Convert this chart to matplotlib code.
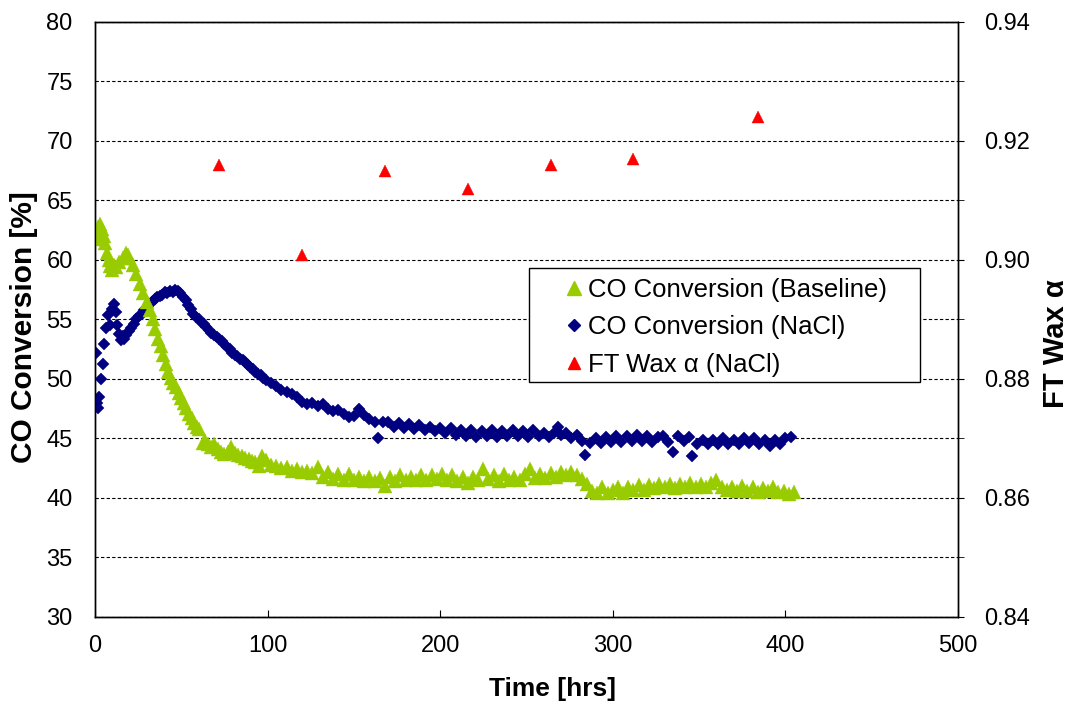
import matplotlib
matplotlib.use("Agg")
import matplotlib.pyplot as plt
from matplotlib.lines import Line2D
from matplotlib.patches import Rectangle
from matplotlib.ticker import FormatStrFormatter, MultipleLocator

plt.rcParams['font.family'] = ['Liberation Sans', 'DejaVu Sans']

# CO conversion, baseline run
base_t = [0, 1, 2, 3, 4, 5, 6, 7, 8, 9,
          10, 11, 12, 14, 16, 18, 19, 20, 22, 24,
          26, 28, 30, 32, 33.5, 35, 36.5, 38, 39.5, 41,
          42.5, 44, 45.5, 47, 48.5, 50, 51.5, 53, 54.5, 56,
          57.5, 59, 60.5, 62.5, 64, 65.5, 67, 69, 71, 73,
          75, 77, 79, 81, 83, 85, 87, 89, 91, 93,
          95, 97,
          99, 102, 105, 108, 111, 114, 117, 120, 123, 126,
          129, 132, 135, 138, 141, 144, 147, 150, 153, 156,
          159, 162, 165, 168, 171, 174, 177, 180, 183, 186,
          189, 192, 195, 198, 201, 204, 207, 210, 213, 216,
          219, 222, 225, 228, 231, 234, 237, 240, 243, 246,
          249, 252, 255, 258, 261, 264, 267, 270, 273, 276,
          279, 282, 285, 288, 291, 294, 297, 300, 303, 306,
          309, 312, 315, 318, 321, 324, 327, 330, 333, 336,
          339, 342, 345, 348, 351, 354, 357, 360, 363, 366,
          369, 372, 375, 378, 381, 384, 387, 390, 393, 396,
          399, 402, 405]
base_co = [61.8, 62.3, 62.8, 63.0, 62.6, 62.0, 61.4, 60.6, 60.0, 59.5,
           59.2, 59.6, 59.4, 59.8, 60.2, 60.6, 60.4, 60.2, 59.6, 58.8,
           58.0, 57.2, 56.5, 55.8, 55.0, 54.2, 53.4, 52.8, 52.0, 51.3,
           50.6, 50.1, 49.7, 49.3, 48.8, 48.4, 48.0, 47.6, 47.1, 46.7,
           46.3, 46.0, 45.8, 44.6, 44.8, 44.5, 44.3, 44.5, 44.1, 43.9,
           43.7, 43.9, 44.3, 43.8, 43.6, 43.5, 43.4, 43.3, 43.1, 43.0,
           42.7, 43.5,
           43.2, 42.8, 42.7, 42.5, 42.6, 42.3, 42.4, 42.2, 42.3, 42.1,
           42.6, 41.8, 42.2, 41.6, 42.0, 41.5, 42.0, 41.5, 41.8, 41.4,
           41.8, 41.4, 41.7, 41.0, 41.8, 41.4, 41.9, 41.5, 41.8, 41.5,
           41.9, 41.5, 41.9, 41.6, 42.0, 41.5, 41.9, 41.4, 41.8, 41.3,
           41.8, 41.5, 42.4, 41.6, 41.9, 41.4, 42.0, 41.5, 41.8, 41.5,
           42.0, 42.4, 41.7, 42.0, 41.7, 42.1, 41.8, 42.2, 41.9, 42.2,
           41.9, 41.6, 41.2, 40.6, 40.4, 40.9, 40.4, 40.7, 40.9, 40.4,
           40.9, 40.7, 41.1, 40.7, 41.1, 40.8, 41.2, 40.9, 41.2, 40.8,
           41.2, 40.9, 41.3, 40.9, 41.2, 40.9, 41.3, 41.5, 40.9, 40.7,
           40.9, 40.6, 41.0, 40.6, 40.9, 40.5, 40.8, 40.6, 40.9, 40.5,
           40.6, 40.3, 40.5]

# CO conversion, NaCl run
nacl_t = [0.5, 1, 1.5, 2.5, 3.5, 4.5, 5.5, 6.5, 7.5, 8.5,
          10, 11, 12, 13, 14, 15, 16, 17, 18, 19.5,
          21, 22.5, 24, 25.5, 27, 28.5, 30, 31.5, 33, 34.5,
          36, 37.5, 39, 40.5, 42, 43.5, 45, 46.5, 48, 49.5,
          51, 52.5, 54, 55.5, 57, 58.5, 60, 61.5, 63, 64.5,
          66, 67.5, 69, 70.5, 72, 73.5, 75, 76.5, 78, 79.5,
          81, 82.5, 84, 85.5, 87, 88.5, 90, 91.5, 93, 94.5,
          96, 97.5, 99,
          102, 105, 108, 111, 114, 117, 120, 123, 126, 129,
          132, 135, 138, 141, 144, 147, 150, 153, 156, 159,
          162, 164, 167, 170, 173, 176, 179, 182, 185, 188,
          191, 194, 197, 200, 203, 206, 209, 212, 215, 218,
          221, 224, 227, 230, 233, 236, 239, 242, 245, 248,
          251, 254, 257, 260, 263, 266, 268, 270, 273, 276,
          279, 282, 284, 287, 290, 293, 296, 299, 302, 305,
          308, 311, 314, 317, 320, 323, 326, 329, 332, 335,
          338, 341, 344, 346, 349, 352, 355, 358, 361, 364,
          367, 370, 373, 376, 379, 382, 385, 388, 391, 394,
          397, 400, 403]
nacl_co = [52.2, 48.0, 47.6, 48.5, 50.0, 51.3, 52.9, 54.3, 55.4, 54.5,
           55.9, 56.3, 55.6, 54.5, 53.8, 53.3, 53.6, 53.4, 53.7, 54.0,
           54.3, 54.6, 55.0, 55.3, 55.5, 55.8, 56.0, 56.3, 56.5, 56.7,
           56.9, 57.0, 57.1, 57.3, 57.2, 57.4, 57.3, 57.5, 57.4, 57.2,
           56.9, 56.6, 56.2, 55.9, 55.5, 55.2, 55.0, 54.8, 54.6, 54.4,
           54.1, 53.9, 53.7, 53.5, 53.4, 53.2, 52.9, 52.7, 52.5, 52.2,
           52.0, 51.9, 51.7, 51.6, 51.4, 51.2, 51.0, 50.8, 50.6, 50.4,
           50.3, 50.1, 49.9,
           49.7, 49.4, 49.1, 48.9, 48.7, 48.5, 48.1, 47.9, 48.0, 47.7,
           47.9, 47.5, 47.3, 47.4, 47.1, 46.8, 46.9, 47.5, 47.0, 46.6,
           46.4, 45.0, 46.4, 46.4, 46.0, 46.3, 45.9, 46.2, 45.8, 46.1,
           45.7, 46.0, 45.6, 45.9, 45.5, 45.9, 45.3, 45.7, 45.2, 45.7,
           45.1, 45.6, 45.2, 45.7, 45.1, 45.6, 45.2, 45.7, 45.2, 45.6,
           45.1, 45.7, 45.2, 45.5, 45.1, 45.5, 46.0, 45.3, 45.5, 45.0,
           45.3, 44.8, 43.6, 44.6, 45.0, 44.6, 45.1, 44.7, 45.2, 44.7,
           45.2, 44.8, 45.3, 44.8, 45.2, 44.7, 45.1, 45.2, 44.7, 43.9,
           45.2, 44.8, 45.1, 43.5, 44.5, 44.9, 44.5, 44.9, 44.5, 45.0,
           44.5, 44.9, 44.5, 45.0, 44.6, 45.0, 44.5, 44.9, 44.4, 44.9,
           44.5, 45.0, 45.1]

# FT wax alpha, NaCl run (right axis)
wax_t = [72, 120, 168, 216, 264, 312, 384]
wax_alpha = [0.916, 0.9008, 0.915, 0.912, 0.916, 0.917, 0.924]

GREEN = '#99CC00'
NAVY = '#000080'
RED = '#FF0000'

fig = plt.figure(figsize=(10.73, 7.07), dpi=100)
ax = fig.add_axes([0.0885, 0.1273, 0.8043, 0.8416])

ax.plot(nacl_t, nacl_co, ls='none', marker='D', ms=6.5, color=NAVY,
        mec=NAVY, mew=0.3, zorder=3)
ax.plot(base_t, base_co, ls='none', marker='^', ms=10, color=GREEN,
        mec=GREEN, mew=0.3, zorder=4)

ax.set_xlim(0, 500)
ax.set_ylim(30, 80)
ax.set_xticks(range(0, 501, 100))
ax.set_yticks(range(30, 81, 5))
ax.grid(axis='y', linestyle=(0, (3, 2)), color='black', linewidth=0.8)
ax.tick_params(axis='x', direction='in', length=5, pad=13, labelsize=17)
ax.tick_params(axis='y', direction='in', length=0, pad=16, labelsize=17)
ax.set_xlabel('Time [hrs]', fontsize=19, fontweight='bold')
ax.set_ylabel('CO Conversion [%]', fontsize=21.5, fontweight='bold')
ax.xaxis.set_label_coords(0.53, -0.101)
ax.yaxis.set_label_coords(-0.066, 0.487)

ax2 = ax.twinx()
ax2.plot(wax_t, wax_alpha, ls='none', marker='^', ms=8.5, color=RED,
         mec=RED, mew=0.3, zorder=3)
ax2.set_ylim(0.84, 0.94)
ax2.yaxis.set_major_locator(MultipleLocator(0.02))
ax2.yaxis.set_minor_locator(MultipleLocator(0.01))
ax2.yaxis.set_major_formatter(FormatStrFormatter('%.2f'))
ax2.tick_params(axis='y', which='major', direction='out', length=4, pad=15, labelsize=17)
ax2.tick_params(axis='y', which='minor', direction='out', length=4)
ax2.set_ylabel('FT Wax α', fontsize=21, fontweight='bold')
ax2.yaxis.set_label_coords(1.097, 0.459)

for a in (ax, ax2):
    for s in a.spines.values():
        s.set_color('black')
        s.set_linewidth(1.0)

# legend box drawn by hand so the padding can be wider than it is tall
ax2.add_patch(Rectangle((0.5029, 0.395), 0.453, 0.1916, transform=ax2.transAxes,
                        facecolor='white', edgecolor='black', linewidth=1.0,
                        zorder=5))
handles = [
    Line2D([], [], ls='none', marker='^', ms=10, color=GREEN, label='CO Conversion (Baseline)'),
    Line2D([], [], ls='none', marker='D', ms=6.5, color=NAVY, label='CO Conversion (NaCl)'),
    Line2D([], [], ls='none', marker='^', ms=8.5, color=RED, label='FT Wax α (NaCl)'),
]
leg = ax2.legend(handles=handles, loc='upper left', bbox_to_anchor=(0.540, 0.570),
                 frameon=False, fontsize=18.5, borderpad=0, handlelength=1.0,
                 handletextpad=0.05, labelspacing=0.52, borderaxespad=0)
leg.set_zorder(6)

fig.savefig('out.png', dpi=100, facecolor='white')
